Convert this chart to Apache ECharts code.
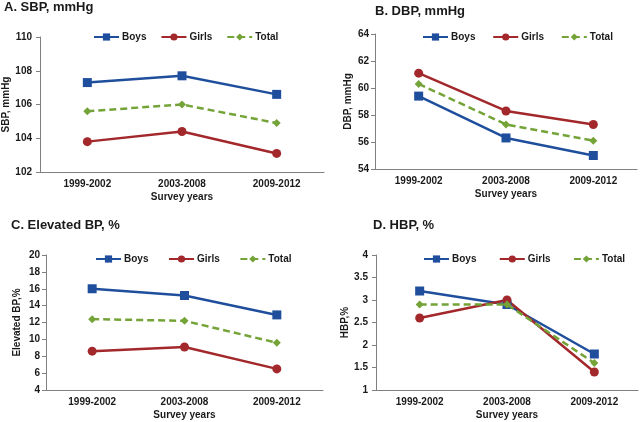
<!DOCTYPE html>
<html><head><meta charset="utf-8">
<script src="https://cdn.jsdelivr.net/npm/echarts@6/dist/echarts.min.js"></script>
<style>html,body{margin:0;padding:0;background:#fff}#c{width:640px;height:422px}</style>
</head><body><div id="c"></div>
<script>
const categories = ['1999-2002', '2003-2008', '2009-2012'];
const seriesNames = ['Boys', 'Girls', 'Total'];
const titles = ['A. SBP, mmHg', 'B. DBP, mmHg', 'C. Elevated BP, %', 'D. HBP, %'];
const yNames = ['SBP, mmHg', 'DBP, mmHg', 'Elevated BP,%', 'HBP,%'];
const xName = 'Survey years';
const sbpBoys = [107.3, 107.7, 106.6];
const sbpGirls = [103.8, 104.4, 103.1];
const sbpTotal = [105.6, 106.0, 104.9];
const dbpBoys = [59.4, 56.3, 55.0];
const dbpGirls = [61.1, 58.3, 57.3];
const dbpTotal = [60.3, 57.3, 56.1];
const ebpBoys = [16.0, 15.2, 12.9];
const ebpGirls = [8.6, 9.1, 6.5];
const ebpTotal = [12.4, 12.2, 9.6];
const hbpBoys = [3.2, 2.9, 1.8];
const hbpGirls = [2.6, 3.0, 1.4];
const hbpTotal = [2.9, 2.9, 1.6];
const yMin = [102, 54, 4, 1];
const yMax = [110, 64, 20, 4];
const yStep = [2, 2, 2, 0.5];

const panelData = [
  [sbpBoys, sbpGirls, sbpTotal],
  [dbpBoys, dbpGirls, dbpTotal],
  [ebpBoys, ebpGirls, ebpTotal],
  [hbpBoys, hbpGirls, hbpTotal]
];

const colors = ['#1f4f9c', '#a3282b', '#74a338'];
const symbols = ['rect', 'circle', 'diamond'];
const symbolSizes = [9, 9, 8];
const font = '"Liberation Sans", Arial, sans-serif';
const txt = '#1a1a1a';
const axisCol = '#808080';

const grids = [
  {left: 38, top: 37, width: 286, height: 135},
  {left: 375, top: 34, width: 262, height: 135},
  {left: 46, top: 255, width: 277, height: 135},
  {left: 376, top: 255, width: 262, height: 135}
];
const titlePos = [[4, 1], [375, 5], [11, 219], [373, 219]];
const legendPos = [[93, 32], [422, 32], [95, 254], [423, 254]];
const nameGaps = [29, 22, 24, 26];
const labelMargins = [8, 6, 6, 8];

const option = {
  animation: false,
  backgroundColor: '#fff',
  title: titles.map((t, i) => ({
    text: t, left: titlePos[i][0], top: titlePos[i][1], padding: 0,
    textStyle: {fontFamily: font, fontWeight: 'bold', fontSize: 13, color: txt}
  })),
  legend: grids.map((g, i) => ({
    left: legendPos[i][0], top: legendPos[i][1], padding: 0,
    itemWidth: 25, itemHeight: 9, itemGap: 14,
    data: seriesNames.map(n => ({name: n + ' '.repeat(i)})),
    textStyle: {fontFamily: font, fontWeight: 'bold', fontSize: 10, color: txt, padding: [0, 0, 0, -2]}
  })),
  grid: grids,
  xAxis: grids.map((g, i) => ({
    type: 'category', gridIndex: i, data: categories, boundaryGap: true,
    name: xName, nameLocation: 'middle', nameGap: 20,
    nameTextStyle: {fontFamily: font, fontWeight: 'bold', fontSize: 10, color: txt},
    axisLine: {lineStyle: {color: axisCol, width: 1}},
    axisTick: {inside: true, length: 3, lineStyle: {color: axisCol}},
    axisLabel: {fontFamily: font, fontWeight: 'bold', fontSize: 10, color: txt, margin: 7},
    splitLine: {show: false}
  })),
  yAxis: grids.map((g, i) => ({
    type: 'value', gridIndex: i, min: yMin[i], max: yMax[i], interval: yStep[i],
    name: yNames[i], nameLocation: 'middle', nameGap: nameGaps[i],
    nameTextStyle: {fontFamily: font, fontWeight: 'bold', fontSize: 10, color: txt},
    axisLine: {show: true, lineStyle: {color: axisCol, width: 1}},
    axisTick: {show: true, length: 4, lineStyle: {color: axisCol}},
    axisLabel: {fontFamily: font, fontWeight: 'bold', fontSize: 10, color: txt, margin: labelMargins[i]},
    splitLine: {show: false}
  })),
  series: []
};

panelData.forEach((arrs, p) => {
  arrs.forEach((vals, s) => {
    option.series.push({
      name: seriesNames[s] + ' '.repeat(p),
      type: 'line', xAxisIndex: p, yAxisIndex: p, data: vals,
      symbol: symbols[s], symbolSize: symbolSizes[s],
      z: s === 2 ? 3 : 2,
      itemStyle: {color: colors[s]},
      lineStyle: {color: colors[s], width: 2.5, type: s === 2 ? [7, 4] : 'solid'}
    });
  });
});

const chart = echarts.init(document.getElementById('c'), null, {renderer: 'canvas'});
chart.setOption(option);
</script>
</body></html>
